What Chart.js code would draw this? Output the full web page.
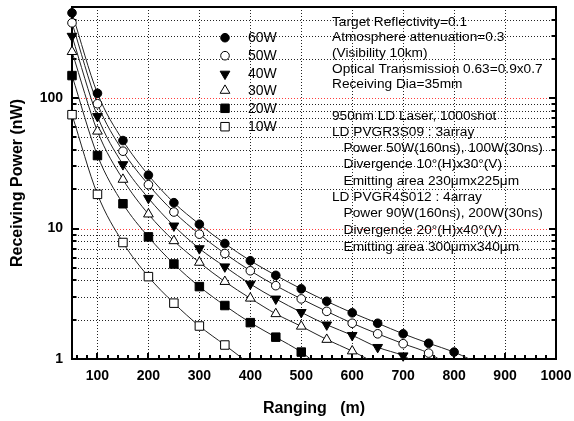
<!DOCTYPE html>
<html>
<head>
<meta charset="utf-8">
<script src="https://cdn.jsdelivr.net/npm/chart.js@4/dist/chart.umd.min.js"></script>
<style>
  html, body { margin: 0; padding: 0; background: #fff; }
  #chart { display: block; }
</style>
</head>
<body>
<canvas id="chart" width="574" height="421"></canvas>
<script>
// ranging distances (m) where the markers sit
const ranges = [50, 100, 150, 200, 250, 300, 350, 400, 450, 500, 550, 600, 650, 700, 750, 800];

// receiving power (nW) per laser power
const power60 = [451, 109, 47.3, 25.7, 15.8, 10.8, 7.68, 5.67, 4.38, 3.45, 2.77, 2.26, 1.88, 1.56, 1.32, 1.13];
const power50 = [378, 90.6, 39.2, 21.7, 13.4, 9.06, 6.44, 4.75, 3.65, 2.89, 2.32, 1.88, 1.56, 1.31, 1.11];
const power40 = [299, 72.5, 31, 17.1, 10.5, 7.03, 5.1, 3.76, 2.89, 2.28, 1.83, 1.52, 1.23, 1.06];
const power30 = [227, 55.7, 23.8, 12.9, 8.05, 5.5, 3.92, 2.92, 2.22, 1.78, 1.41, 1.15];
const power20 = [149, 36.3, 15.5, 8.64, 5.35, 3.59, 2.57, 1.9, 1.47, 1.13];
const power10 = [74.7, 18.3, 7.82, 4.28, 2.68, 1.79, 1.28];

// range where each fitted curve runs into the 1 nW axis
const curveEnds = [830, 770, 712, 630, 518, 386];

const seriesLabels = ['60W', '50W', '40W', '30W', '20W', '10W'];
const seriesValues = [power60, power50, power40, power30, power20, power10];

const xTicks = [100, 200, 300, 400, 500, 600, 700, 800, 900, 1000];
const yTicks = [1, 10, 100];

const noteLines = [
  'Target Reflectivity=0.1',
  'Atmosphere attenuation=0.3',
  '(Visibility 10km)',
  'Optical Transmission 0.63=0.9x0.7',
  'Receiving Dia=35mm',
  '950nm LD Laser, 1000shot',
  'LD PVGR3S09 : 3array',
  'Power 50W(160ns), 100W(30ns)',
  'Divergence 10°(H)x30°(V)',
  'Emitting area 230μmx225μm',
  'LD PVGR4S012 : 4array',
  'Power 90W(160ns), 200W(30ns)',
  'Divergence 20°(H)x40°(V)',
  'Emitting area 300μmx340μm'
];

const FONT = "'Liberation Sans', Arial, sans-serif";

// marker look for each series
const markerStyles = [
  { pointStyle: 'circle', radius: 4.3, rotation: 0, fill: '#000' },
  { pointStyle: 'circle', radius: 4.3, rotation: 0, fill: '#fff' },
  { pointStyle: 'triangle', radius: 5.6, rotation: 180, fill: '#000' },
  { pointStyle: 'triangle', radius: 5.6, rotation: 0, fill: '#fff' },
  { pointStyle: 'rect', radius: 6, rotation: 0, fill: '#000' },
  { pointStyle: 'rect', radius: 6, rotation: 0, fill: '#fff' }
];

// all log positions for minor grid and ticks
const yMinor = [];
[1, 10, 100].forEach(d => {
  for (let m = 1; m <= 9; m++) {
    if (m * d <= 500) yMinor.push(m * d);
  }
});

const datasets = [];
seriesValues.forEach((vals, k) => {
  const pts = vals.map((v, i) => ({ x: ranges[i], y: v }));
  datasets.push({
    label: seriesLabels[k] + ' fit',
    data: pts.concat([{ x: curveEnds[k], y: 1 }]),
    showLine: true,
    borderColor: '#222',
    borderWidth: 1,
    pointRadius: 0,
    cubicInterpolationMode: 'monotone',
    clip: 0,
    order: 2
  });
});
seriesValues.forEach((vals, k) => {
  const s = markerStyles[k];
  datasets.push({
    label: seriesLabels[k],
    data: vals.map((v, i) => ({ x: ranges[i], y: v })),
    showLine: false,
    pointStyle: s.pointStyle,
    pointRadius: s.radius,
    pointRotation: s.rotation,
    pointBackgroundColor: s.fill,
    pointBorderColor: '#000',
    pointBorderWidth: 1,
    clip: false,
    order: 1
  });
});

const framePlugin = {
  id: 'frame',
  beforeDatasetsDraw(chart) {
    const ctx = chart.ctx;
    const { left, right, top, bottom } = chart.chartArea;
    const xs = chart.scales.x, ys = chart.scales.y;
    ctx.save();

    // dotted grid
    ctx.lineWidth = 1;
    ctx.setLineDash([1, 2]);
    ctx.strokeStyle = '#222';
    ctx.beginPath();
    xTicks.forEach(v => {
      if (v >= 1000) return;
      const px = Math.round(xs.getPixelForValue(v)) + 0.5;
      ctx.moveTo(px, top);
      ctx.lineTo(px, bottom);
    });
    yMinor.forEach(v => {
      if (v === 1 || v === 500 || yTicks.includes(v)) return;
      const py = Math.round(ys.getPixelForValue(v)) + 0.5;
      ctx.moveTo(left, py);
      ctx.lineTo(right, py);
    });
    ctx.stroke();
    ctx.strokeStyle = '#ff3a3a';
    ctx.beginPath();
    [10, 100].forEach(v => {
      const py = Math.round(ys.getPixelForValue(v)) + 0.5;
      ctx.moveTo(left, py);
      ctx.lineTo(right, py);
    });
    ctx.stroke();
    ctx.setLineDash([]);

    ctx.strokeStyle = '#000';
    ctx.lineWidth = 2;
    ctx.strokeRect(left, top, right - left, bottom - top);

    // inward ticks on bottom axis
    ctx.beginPath();
    for (let v = 60; v < 1000; v += 20) {
      const px = Math.round(xs.getPixelForValue(v));
      const len = v % 100 === 0 ? 6 : 4;
      ctx.moveTo(px, bottom);
      ctx.lineTo(px, bottom - len);
    }
    // inward ticks on left and right axes
    yMinor.forEach(v => {
      if (v === 1) return;
      const py = Math.round(ys.getPixelForValue(v));
      const len = yTicks.includes(v) ? 7 : 4.5;
      ctx.moveTo(left, py);
      ctx.lineTo(left + len, py);
      ctx.moveTo(right, py);
      ctx.lineTo(right - len, py);
    });
    ctx.stroke();
    ctx.restore();
  },
  afterDraw(chart) {
    const ctx = chart.ctx;
    ctx.save();
    // legend
    const lx = 225, ly = [37.7, 55.7, 74, 90.5, 108.3, 126.7];
    ctx.font = '14px ' + FONT;
    ctx.textBaseline = 'middle';
    ctx.textAlign = 'left';
    seriesLabels.forEach((name, k) => {
      const s = markerStyles[k];
      ctx.fillStyle = s.fill;
      ctx.strokeStyle = '#000';
      ctx.lineWidth = 1;
      Chart.helpers.drawPoint(ctx, {
        pointStyle: s.pointStyle, radius: s.radius, rotation: s.rotation, borderWidth: 1
      }, lx, ly[k]);
      ctx.fillStyle = '#000';
      ctx.fillText(name, 248, ly[k] + 0.5);
    });

    // notes
    const ny = [22.7, 37.7, 53.3, 69.3, 84, 116.7, 132.3, 148.3, 164.3, 181, 197, 213.3, 230.5, 247];
    const indented = [7, 8, 9, 11, 12, 13];
    ctx.font = '13.7px ' + FONT;
    ctx.fillStyle = '#000';
    noteLines.forEach((t, i) => {
      const x = indented.includes(i) ? 343.5 : 332;
      ctx.fillText(t, x, ny[i]);
    });
    ctx.restore();
  }
};

new Chart(document.getElementById('chart'), {
  type: 'scatter',
  data: { datasets: datasets },
  options: {
    responsive: false,
    devicePixelRatio: 1,
    animation: false,
    layout: { padding: { top: 6, right: 18, left: 0, bottom: 0 } },
    plugins: {
      legend: { display: false },
      tooltip: { enabled: false }
    },
    scales: {
      x: {
        type: 'linear',
        min: 50,
        max: 1000,
        afterBuildTicks: scale => { scale.ticks = xTicks.map(v => ({ value: v })); },
        afterFit: scale => {
          scale.height = 62;
          scale.paddingLeft = 0;
          scale.paddingRight = 0;
        },
        ticks: {
          autoSkip: false,
          maxRotation: 0,
          padding: 9,
          color: '#000',
          font: { family: FONT, size: 14, weight: 'bold' },
          callback: v => String(v)
        },
        grid: { display: false, drawTicks: false },
        border: { display: false },
        title: {
          display: true,
          text: 'Ranging   (m)',
          color: '#000',
          font: { family: FONT, size: 16, weight: 'bold' },
          padding: { top: 0, bottom: 3 }
        }
      },
      y: {
        type: 'logarithmic',
        min: 1,
        max: 500,
        afterBuildTicks: scale => { scale.ticks = yMinor.map(v => ({ value: v })); },
        afterFit: scale => {
          scale.width = 72;
          scale.paddingTop = 0;
          scale.paddingBottom = 0;
        },
        ticks: {
          autoSkip: false,
          padding: 9,
          color: '#000',
          font: { family: FONT, size: 14, weight: 'bold' },
          callback: v => (yTicks.includes(v) ? String(v) : '')
        },
        grid: { display: false, drawTicks: false },
        border: { display: false },
        title: {
          display: true,
          text: 'Receiving Power (nW)',
          color: '#000',
          font: { family: FONT, size: 16, weight: 'bold' },
          padding: { top: 8, bottom: 0 }
        }
      }
    }
  },
  plugins: [framePlugin]
});
</script>
</body>
</html>
